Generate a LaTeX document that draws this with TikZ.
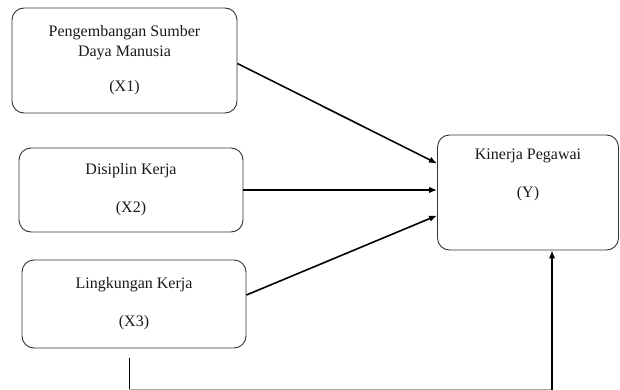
\documentclass[tikz,border=0pt]{standalone}
\usepackage{fontspec}
\setmainfont{Liberation Serif}
\usetikzlibrary{arrows.meta}
\begin{document}
\begin{tikzpicture}[>=latex, x=1pt, y=-1pt,
    varbox/.style={draw=black!80, line width=0.9pt, rounded corners=12pt, align=center, text=black!90,
        font=\fontsize{16}{20}\selectfont, inner sep=0pt},
    link/.style={-{Latex[length=8pt,width=6.5pt]}, line width=1.6pt}]
    \useasboundingbox (0,0) rectangle (620,390);
    \node[varbox, minimum width=225, minimum height=105] (x1) at (124.5,60.5)
        {Pengembangan Sumber\\Daya Manusia\\[15pt](X1)};
    \node[varbox, minimum width=224, minimum height=84] (x2) at (131,190)
        {Disiplin Kerja\\[18pt](X2)};
    \node[varbox, minimum width=224, minimum height=88] (x3) at (134,304)
        {Lingkungan Kerja\\[18pt](X3)};
    \node[varbox, minimum width=181, minimum height=115] (y) at (528,192.5)
        {Kinerja Pegawai\\[18pt](Y)\\[12pt]\strut};
    \draw[link]([yshift=-3pt]x1.east)--([yshift=29pt]y.west);
    \draw[link](x2.east)--(x2.east -| y.west);
    \draw[link]([yshift=9pt]x3.east)--([yshift=-23pt]y.west);
    \coordinate (c3) at (129,358);\coordinate (c5) at (552,389.5);
    \draw[line width=0.8pt](c3)--(c3 |- c5)coordinate(c4);
    \draw[black!35, line width=0.8pt](c4)--(c5);
    \draw[link](c5)--(c5 |- y.south);
\end{tikzpicture}
\end{document}
